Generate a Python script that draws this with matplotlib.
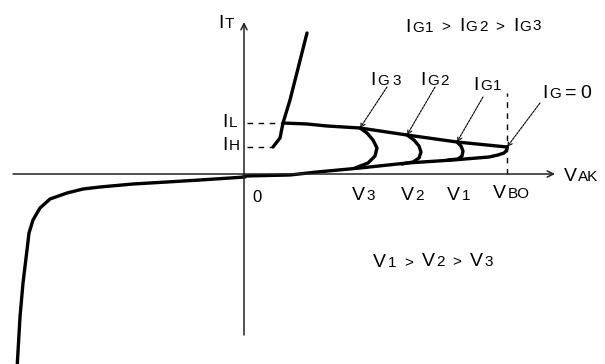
import matplotlib.pyplot as plt

plt.rcParams['font.family'] = ['Liberation Sans', 'DejaVu Sans']

# on-state branch, from the holding point up
on_v = [29, 36, 39, 46, 63]
on_i = [27, 36, 51, 74, 141]

# latching line that the gate curves switch onto
latch_v = [39, 63, 83, 116, 163, 213, 263]
latch_i = [51, 50, 48, 46, 39, 32, 27]

# forward blocking, ending in the IG = 0 breakover knee
block_v = [0, 46, 73, 116, 163, 209, 245, 254, 260, 262, 263, 263]
block_i = [-2, -1, 2, 6, 11, 14, 17, 19, 21, 23, 25, 27]

# reverse blocking and avalanche
rev_v = [1, -44, -77, -111, -144, -161, -177, -194, -204, -211, -215, -217, -221, -224, -227]
rev_i = [-3, -6, -8, -10, -13, -15, -19, -25, -34, -46, -59, -76, -109, -143, -195]

# switching knees for IG3, IG2, IG1
gate_v = [[116, 123, 129, 133, 131, 124, 111],
          [163, 170, 175, 177, 175, 169, 158],
          [213, 217, 219, 218, 214, 204]]
gate_i = [[46, 41, 34, 26, 18, 11, 6],
          [39, 34, 28, 22, 16, 12, 10],
          [32, 28, 23, 18, 15, 14]]

I_L, I_H = 51, 27
V_BO = 263

fig = plt.figure(figsize=(6.05, 3.64), dpi=100)
ax = fig.add_axes([0, 0, 1, 1])
ax.set_xlim(-244, 361)
ax.set_ylim(-190, 174)
ax.axis('off')

# axes with arrow heads
arrow = dict(arrowstyle='->', lw=1.1, color='#222222', mutation_scale=11, shrinkA=0, shrinkB=0)
ax.annotate('', xy=(311, 0), xytext=(-231, 0), arrowprops=arrow)
ax.annotate('', xy=(0, 152), xytext=(0, -161), arrowprops=arrow)

thick = dict(color='black', lw=2.4, solid_joinstyle='round', solid_capstyle='round')
ax.plot(on_v, on_i, **thick)
ax.plot(latch_v, latch_i, **thick)
ax.plot(block_v, block_i, **thick)
ax.plot(rev_v, rev_i, **thick)
for gv, gi in zip(gate_v, gate_i):
    ax.plot(gv, gi, **thick)

# IL, IH and VBO guide lines
dash = dict(color='black', lw=1, ls=(0, (4, 4)))
ax.plot([3, on_v[2]], [I_L, I_L], **dash)
ax.plot([3, on_v[0]], [I_H, I_H], **dash)
ax.plot([V_BO, V_BO], [0, 81], **dash)

DESC = 0.21  # descent of the font, as a fraction of its size


def label(x, y, parts):
    """Chain (text, size, gap) pieces left to right on one baseline."""
    text, size, _ = parts[0]
    t = ax.text(x, y, text, fontsize=size, va='baseline', ha='left')
    prev = size
    for text, size, gap in parts[1:]:
        t = ax.annotate(text, xy=(1, 0), xycoords=t, xytext=(gap, DESC * prev),
                        textcoords='offset points', fontsize=size,
                        va='baseline', ha='left')
        prev = size
    return t


big, small = 14, 11
label(-26, 146, [('I', big, 0), ('T', small, 1)])
label(-22, 47, [('I', big, 0), ('L', small, 1)])
label(-22, 24, [('I', big, 0), ('H', small, 1)])
label(161, 142, [('I', big, 0), ('G', small, 1), ('1', small, 1), ('>', small, 6),
                 ('I', big, 6), ('G', small, 1), ('2', small, 1), ('>', small, 6),
                 ('I', big, 6), ('G', small, 1), ('3', small, 1)])
label(126, 89, [('I', big, 0), ('G', small, 1), ('3', small, 3)])
label(176, 89, [('I', big, 0), ('G', small, 1), ('2', small, 1)])
label(229, 84, [('I', big, 0), ('G', small, 1), ('1', small, 1)])
label(298, 76, [('I', big, 0), ('G', small, 1), ('=', big, 3), ('0', big, 3)])

label(8, -28, [('0', 12, 0)])
label(108, -26, [('V', big, 0), ('3', small, 1)])
label(157, -26, [('V', big, 0), ('2', small, 1)])
label(203, -26, [('V', big, 0), ('1', small, 1)])
label(249, -24, [('V', big, 0), ('BO', small, 1)])
label(320, -7, [('V', big, 0), ('AK', small, 1)])
label(129, -93, [('V', big, 0), ('1', small, 1), ('>', small, 6),
                 ('V', big, 6), ('2', small, 1), ('>', small, 6),
                 ('V', big, 6), ('3', small, 1)])

# pointers from the gate labels to where each curve switches
pointer = dict(arrowstyle='->', lw=0.8, color='black', ls=(0, (2, 1)),
               mutation_scale=8, shrinkA=0, shrinkB=0)
tails = [(143, 87), (191, 87), (239, 77), (296, 71)]
heads = [(116, 46), (163, 39), (213, 32), (263, 27)]
for tail, head in zip(tails, heads):
    ax.annotate('', xy=head, xytext=tail, arrowprops=pointer)

fig.savefig('out.png', dpi=100)
